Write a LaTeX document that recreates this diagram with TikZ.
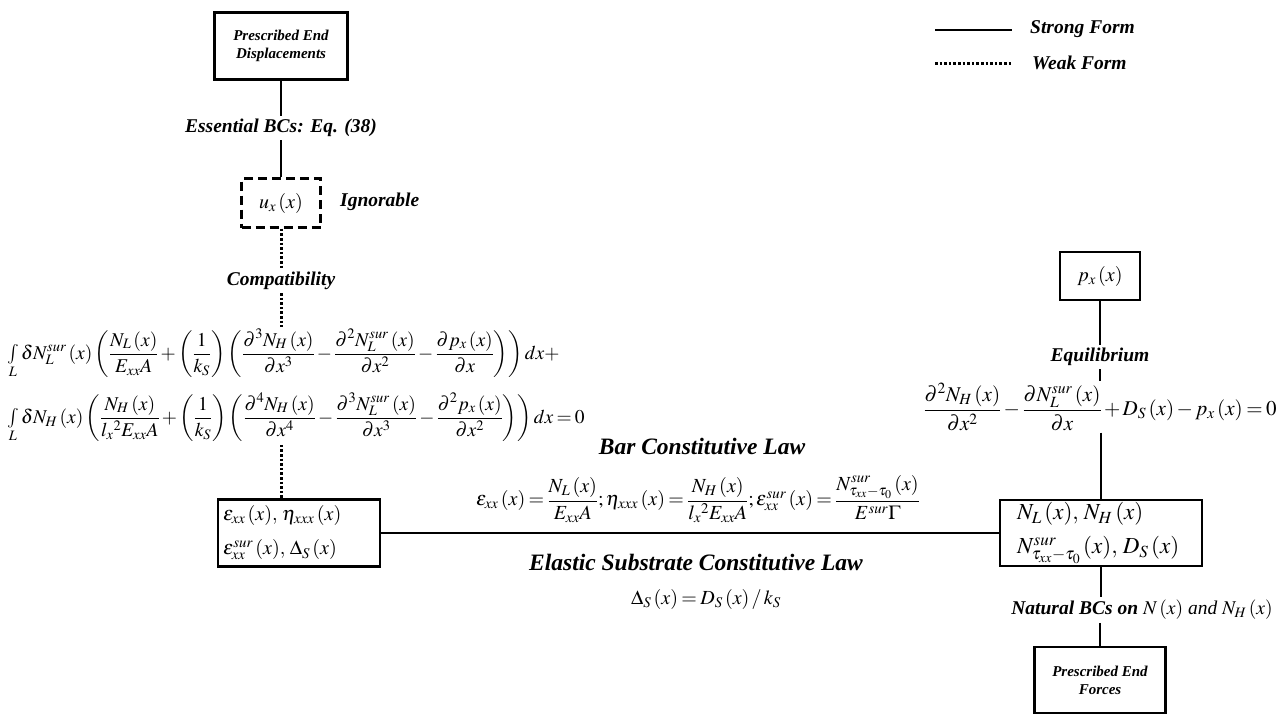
\documentclass[tikz,border=0pt]{standalone}
\usepackage{amsmath}
\usepackage{mathptmx}
\usepackage{fontspec}
\setmainfont{Liberation Serif}
\usepackage{tikz}
\usetikzlibrary{positioning}
\newcommand{\ofx}{\,(x)}
\AtBeginDocument{\medmuskip=2mu\relax\thickmuskip=3mu\relax}

\begin{document}
\begin{tikzpicture}[x=1pt,y=-1pt,
	boxd/.style={draw,line width=2.6pt,inner sep=3pt},
	bilbl/.style={font=\bfseries\itshape\fontsize{19.5}{22}\selectfont,inner sep=3pt},
	biglbl/.style={font=\bfseries\itshape\fontsize{23.5}{27}\selectfont,inner sep=3pt},
	eqn/.style={font=\fontsize{20}{34}\selectfont,inner sep=2pt},
	strong/.style={line width=2.6pt},
	weak/.style={line width=3pt,dash pattern=on 2.6pt off 2pt}]
	\useasboundingbox (0,0) rectangle (1288,715);
	
	% legend
	\coordinate (sA) at (935,30);
	\coordinate (sB) at (1012,30);
	\coordinate (wA) at (935,63);
	\coordinate (wB) at (1012,63);
	\draw[strong] (sA) -- (sB);
	\draw[weak] (wA) -- (wB);
	\node[bilbl,anchor=west] (strongtxt) at (1027,29) {Strong Form};
	\node[bilbl,anchor=west] (weaktxt) at (1029,63) {Weak Form};
	
	% left column: displacements
	\node[boxd,minimum width=133,minimum height=67,align=center,
		font=\bfseries\itshape\fontsize{15}{18}\selectfont] (dispbox) at (281,46) {Prescribed End\\Displacements};
	\node[bilbl] (essbc) at (281,128) {Essential BCs: Eq. (38)};
	\node[eqn,draw,line width=2.4pt,dash pattern=on 9pt off 5pt,
		minimum width=79,minimum height=49] (uxbox) at (281,203) {$u_x\ofx$};
	\node[bilbl,anchor=west] (ignore) at (337,202) {Ignorable};
	\node[bilbl] (compat) at (281,281) {Compatibility};
	
	% weak form of compatibility
	\node[eqn,font=\fontsize{19.5}{34}\selectfont,anchor=west] (weakA) at (5,354) {$\displaystyle\mathop{\textstyle\int}\limits_L \delta N_L^{sur}\ofx\left(\frac{N_L\ofx}{E_{xx}A}+\left(\frac{1}{k_S}\right)\left(\frac{\partial^3 N_H\ofx}{\partial x^3}-\frac{\partial^2 N_L^{sur}\ofx}{\partial x^2}-\frac{\partial p_x\ofx}{\partial x}\right)\right)dx+$};
	\node[eqn,font=\fontsize{19.5}{34}\selectfont,anchor=west] (weakB) at (5,418) {$\displaystyle\mathop{\textstyle\int}\limits_L \delta N_H\ofx\left(\frac{N_H\ofx}{l_x{}^2E_{xx}A}+\left(\frac{1}{k_S}\right)\left(\frac{\partial^4 N_H\ofx}{\partial x^4}-\frac{\partial^3 N_L^{sur}\ofx}{\partial x^3}-\frac{\partial^2 p_x\ofx}{\partial x^2}\right)\right)dx=0$};
	
	% kinematic variables
	\node[boxd,eqn,inner xsep=5pt,text width=152,align=left,minimum height=67] (lbox) at (299,533)
		{$\varepsilon_{xx}\ofx,\,\eta_{xxx}\ofx$\\$\varepsilon_{xx}^{sur}\ofx,\,\Delta_S\ofx$};
	
	% right column: forces
	\node[boxd,eqn,minimum width=80,minimum height=48] (pxbox) at (1100,276) {$p_x\ofx$};
	\node[bilbl] (equil) at (1100,357) {Equilibrium};
	\node[eqn,font=\fontsize{21}{34}\selectfont] (eqright) at (1100,407) {$\dfrac{\partial^2 N_H\ofx}{\partial x^2}-\dfrac{\partial N_L^{sur}\ofx}{\partial x}+D_S\ofx-p_x\ofx=0$};
	\node[boxd,eqn,font=\fontsize{23}{34}\selectfont,inner xsep=17pt,text width=168,align=left,minimum height=66] (rbox) at (1101,533)
		{$N_L\ofx,\,N_H\ofx$\\$N^{sur}_{\tau_{xx}-\tau_0}\ofx,\,D_S\ofx$};
	\node[bilbl] (natural) at (1142,610) {Natural BCs on $N\ofx$ {\mdseries and} $N_H\ofx$};
	\node[boxd,minimum width=131,minimum height=66,align=center,
		font=\bfseries\itshape\fontsize{15}{18}\selectfont] (forcebox) at (1100,680) {Prescribed End\\Forces};
	
	% constitutive laws
	\node[biglbl] (barlbl) at (702,446) {Bar Constitutive Law};
	\node[eqn] (bareq) at (698,499) {$\varepsilon_{xx}\ofx=\dfrac{N_L\ofx}{E_{xx}A};\eta_{xxx}\ofx=\dfrac{N_H\ofx}{l_x{}^2E_{xx}A};\varepsilon_{xx}^{sur}\ofx=\dfrac{N^{sur}_{\tau_{xx}-\tau_0}\ofx}{E^{sur}\Gamma}$};
	\node[biglbl] (elaslbl) at (696,562) {Elastic Substrate Constitutive Law};
	\node[eqn] (deltaeq) at (706,599) {$\Delta_S\ofx=D_S\ofx\,/\,k_S$};
	
	% connectors
	\draw[strong] (dispbox) -- (essbc);
	\draw[strong] (essbc) -- (uxbox);
	\draw[weak] (uxbox) -- (compat);
	\draw[weak] (compat) -- (compat |- weakA.north);
	\draw[weak] (weakB.south -| compat) -- (lbox.north -| compat);
	\draw[strong] (lbox) -- (rbox);
	\draw[strong] (pxbox) -- (equil);
	\draw[strong] (equil) -- (equil |- eqright.north);
	\draw[strong] (eqright.south -| rbox) -- (rbox);
	\draw[strong] (rbox.south) -- (rbox.south |- natural.north);
	\draw[strong] (natural.south -| forcebox) -- (forcebox);
\end{tikzpicture}
\end{document}
